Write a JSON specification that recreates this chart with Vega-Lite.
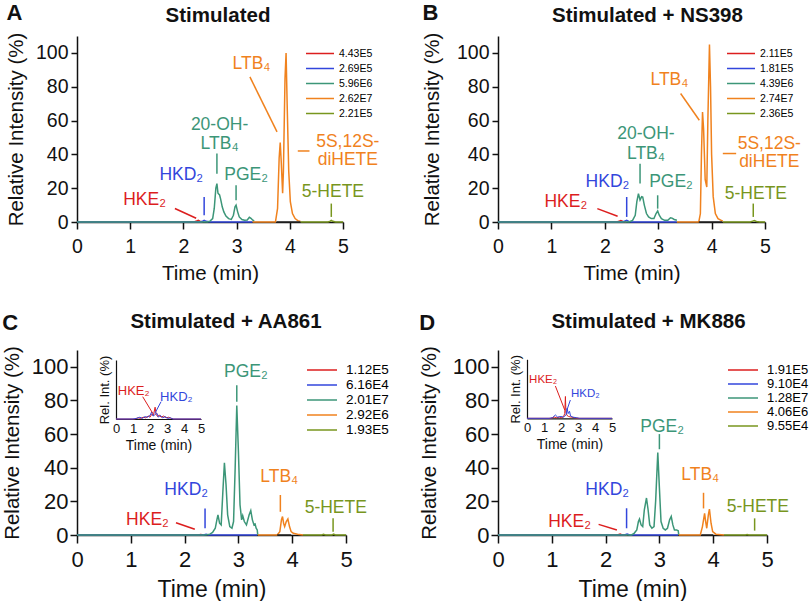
{
  "$schema": "https://vega.github.io/schema/vega-lite/v6.json",
  "padding": {"left": 2, "top": 2, "right": 0, "bottom": 0},
  "columns": 2,
  "spacing": {"row": 28, "column": 30},
  "resolve": {"scale": {"color": "independent"}},
  "config": {
    "font": "Liberation Sans",
    "view": {"stroke": null},
    "axis": {"grid": false, "domainColor": "#111", "tickColor": "#111", "labelColor": "#111", "titleColor": "#111", "titleFontWeight": "normal", "labelFont": "Liberation Sans", "titleFont": "Liberation Sans", "domainWidth": 1.5, "tickWidth": 1.5},
    "title": {"font": "Liberation Sans", "color": "#111"},
    "legend": {"padding": 0, "labelFont": "Liberation Sans"},
    "text": {"font": "Liberation Sans"}
  },
  "datasets": {
    "A": [
      {"time":0,"intensity":0,"trace":"HKE2"},{"time":2.2,"intensity":0,"trace":"HKE2"},{"time":2.25,"intensity":0.6,"trace":"HKE2"},{"time":2.28,"intensity":1,"trace":"HKE2"},{"time":2.31,"intensity":0.5,"trace":"HKE2"},{"time":2.36,"intensity":0,"trace":"HKE2"},
      {"time":0,"intensity":0,"trace":"HKD2"},{"time":2.32,"intensity":0,"trace":"HKD2"},{"time":2.36,"intensity":0.4,"trace":"HKD2"},{"time":2.39,"intensity":1,"trace":"HKD2"},{"time":2.43,"intensity":0.4,"trace":"HKD2"},{"time":2.5,"intensity":0,"trace":"HKD2"},{"time":3.3,"intensity":0,"trace":"HKD2"},
      {"time":0,"intensity":0,"trace":"PGE2"},{"time":2.45,"intensity":0,"trace":"PGE2"},{"time":2.5,"intensity":0.5,"trace":"PGE2"},{"time":2.55,"intensity":2,"trace":"PGE2"},{"time":2.58,"intensity":8,"trace":"PGE2"},{"time":2.61,"intensity":20,"trace":"PGE2"},{"time":2.63,"intensity":22.7,"trace":"PGE2"},{"time":2.65,"intensity":17,"trace":"PGE2"},{"time":2.68,"intensity":16,"trace":"PGE2"},{"time":2.7,"intensity":13.5,"trace":"PGE2"},{"time":2.73,"intensity":9,"trace":"PGE2"},{"time":2.76,"intensity":6,"trace":"PGE2"},{"time":2.8,"intensity":3.5,"trace":"PGE2"},{"time":2.85,"intensity":2,"trace":"PGE2"},{"time":2.9,"intensity":1.5,"trace":"PGE2"},{"time":2.94,"intensity":4,"trace":"PGE2"},{"time":2.97,"intensity":9,"trace":"PGE2"},{"time":2.99,"intensity":10,"trace":"PGE2"},{"time":3.02,"intensity":6,"trace":"PGE2"},{"time":3.05,"intensity":3,"trace":"PGE2"},{"time":3.1,"intensity":1.5,"trace":"PGE2"},{"time":3.15,"intensity":1,"trace":"PGE2"},{"time":3.2,"intensity":1.2,"trace":"PGE2"},{"time":3.24,"intensity":2.8,"trace":"PGE2"},{"time":3.27,"intensity":2.2,"trace":"PGE2"},{"time":3.3,"intensity":1.2,"trace":"PGE2"},{"time":3.33,"intensity":0.5,"trace":"PGE2"},
      {"time":3.3,"intensity":0,"trace":"LTB4"},{"time":3.73,"intensity":0,"trace":"LTB4"},{"time":3.77,"intensity":8,"trace":"LTB4"},{"time":3.8,"intensity":38,"trace":"LTB4"},{"time":3.82,"intensity":47,"trace":"LTB4"},{"time":3.84,"intensity":35,"trace":"LTB4"},{"time":3.865,"intensity":17,"trace":"LTB4"},{"time":3.88,"intensity":30,"trace":"LTB4"},{"time":3.91,"intensity":85,"trace":"LTB4"},{"time":3.93,"intensity":100,"trace":"LTB4"},{"time":3.95,"intensity":70,"trace":"LTB4"},{"time":3.98,"intensity":30,"trace":"LTB4"},{"time":4.01,"intensity":12,"trace":"LTB4"},{"time":4.05,"intensity":5,"trace":"LTB4"},{"time":4.1,"intensity":2,"trace":"LTB4"},{"time":4.15,"intensity":0.8,"trace":"LTB4"},{"time":4.2,"intensity":0.3,"trace":"LTB4"},
      {"time":4.2,"intensity":0,"trace":"5-HETE"},{"time":4.72,"intensity":0,"trace":"5-HETE"},{"time":4.76,"intensity":0.5,"trace":"5-HETE"},{"time":4.78,"intensity":1,"trace":"5-HETE"},{"time":4.81,"intensity":0.4,"trace":"5-HETE"},{"time":4.86,"intensity":0,"trace":"5-HETE"},{"time":5,"intensity":0,"trace":"5-HETE"},
      {"time":3.75,"intensity":0,"trace":"other"},{"time":4.2,"intensity":0,"trace":"other"}
    ],
    "A_lab": [
      {"time":1.27,"intensity":12.8,"label":"HKE₂","trace":"HKE2"},
      {"time":1.96,"intensity":27.6,"label":"HKD₂","trace":"HKD2"},
      {"time":2.68,"intensity":57.5,"label":"20-OH-","trace":"PGE2"},
      {"time":2.68,"intensity":46.2,"label":"LTB₄","trace":"PGE2"},
      {"time":3.18,"intensity":27.6,"label":"PGE₂","trace":"PGE2"},
      {"time":3.28,"intensity":93.7,"label":"LTB₄","trace":"LTB4"},
      {"time":5.09,"intensity":47.3,"label":"5S,12S-","trace":"LTB4"},
      {"time":5.09,"intensity":36.5,"label":"diHETE","trace":"LTB4"},
      {"time":4.81,"intensity":17.8,"label":"5-HETE","trace":"5-HETE"}
    ],
    "A_lead": [
      {"time":1.84,"intensity":8,"time2":2.24,"intensity2":2.2,"trace":"HKE2"},
      {"time":2.39,"intensity":14.8,"time2":2.39,"intensity2":4,"trace":"HKD2"},
      {"time":2.63,"intensity":40.5,"time2":2.63,"intensity2":28.6,"trace":"PGE2"},
      {"time":2.99,"intensity":21.7,"time2":2.99,"intensity2":12.8,"trace":"PGE2"},
      {"time":3.25,"intensity":85.8,"time2":3.76,"intensity2":53.3,"trace":"LTB4"},
      {"time":4.15,"intensity":42,"time2":4.37,"intensity2":42,"trace":"LTB4"},
      {"time":4.78,"intensity":10.9,"time2":4.78,"intensity2":3,"trace":"5-HETE"}
    ],
    "B": [
      {"time":0,"intensity":0,"trace":"HKE2"},{"time":2.22,"intensity":0,"trace":"HKE2"},{"time":2.27,"intensity":0.5,"trace":"HKE2"},{"time":2.3,"intensity":0.8,"trace":"HKE2"},{"time":2.34,"intensity":0.3,"trace":"HKE2"},{"time":2.4,"intensity":0,"trace":"HKE2"},
      {"time":0,"intensity":0,"trace":"HKD2"},{"time":2.33,"intensity":0,"trace":"HKD2"},{"time":2.37,"intensity":0.5,"trace":"HKD2"},{"time":2.41,"intensity":1,"trace":"HKD2"},{"time":2.45,"intensity":0.3,"trace":"HKD2"},{"time":2.5,"intensity":0,"trace":"HKD2"},{"time":3.35,"intensity":0,"trace":"HKD2"},
      {"time":0,"intensity":0,"trace":"PGE2"},{"time":2.45,"intensity":0,"trace":"PGE2"},{"time":2.52,"intensity":1,"trace":"PGE2"},{"time":2.57,"intensity":4,"trace":"PGE2"},{"time":2.6,"intensity":12,"trace":"PGE2"},{"time":2.63,"intensity":16.8,"trace":"PGE2"},{"time":2.66,"intensity":13,"trace":"PGE2"},{"time":2.69,"intensity":15,"trace":"PGE2"},{"time":2.71,"intensity":14.8,"trace":"PGE2"},{"time":2.74,"intensity":10,"trace":"PGE2"},{"time":2.78,"intensity":5,"trace":"PGE2"},{"time":2.82,"intensity":3,"trace":"PGE2"},{"time":2.87,"intensity":2,"trace":"PGE2"},{"time":2.92,"intensity":2,"trace":"PGE2"},{"time":2.96,"intensity":5,"trace":"PGE2"},{"time":2.99,"intensity":6.5,"trace":"PGE2"},{"time":3.02,"intensity":4,"trace":"PGE2"},{"time":3.06,"intensity":2,"trace":"PGE2"},{"time":3.12,"intensity":1,"trace":"PGE2"},{"time":3.18,"intensity":1,"trace":"PGE2"},{"time":3.23,"intensity":2.5,"trace":"PGE2"},{"time":3.26,"intensity":2.3,"trace":"PGE2"},{"time":3.3,"intensity":1.5,"trace":"PGE2"},{"time":3.35,"intensity":1,"trace":"PGE2"},
      {"time":3.35,"intensity":0,"trace":"LTB4"},{"time":3.76,"intensity":0,"trace":"LTB4"},{"time":3.79,"intensity":5,"trace":"LTB4"},{"time":3.81,"intensity":40,"trace":"LTB4"},{"time":3.83,"intensity":65,"trace":"LTB4"},{"time":3.85,"intensity":55,"trace":"LTB4"},{"time":3.88,"intensity":25,"trace":"LTB4"},{"time":3.91,"intensity":20.7,"trace":"LTB4"},{"time":3.93,"intensity":60,"trace":"LTB4"},{"time":3.96,"intensity":105,"trace":"LTB4"},{"time":3.98,"intensity":80,"trace":"LTB4"},{"time":4.0,"intensity":40,"trace":"LTB4"},{"time":4.03,"intensity":15,"trace":"LTB4"},{"time":4.07,"intensity":5,"trace":"LTB4"},{"time":4.12,"intensity":2,"trace":"LTB4"},{"time":4.18,"intensity":1,"trace":"LTB4"},{"time":4.21,"intensity":0.5,"trace":"LTB4"},
      {"time":4.21,"intensity":0,"trace":"5-HETE"},{"time":4.72,"intensity":0,"trace":"5-HETE"},{"time":4.77,"intensity":0.5,"trace":"5-HETE"},{"time":4.8,"intensity":0.8,"trace":"5-HETE"},{"time":4.84,"intensity":0.3,"trace":"5-HETE"},{"time":4.9,"intensity":0,"trace":"5-HETE"},{"time":5,"intensity":0,"trace":"5-HETE"},
      {"time":3.76,"intensity":0,"trace":"other"},{"time":4.2,"intensity":0,"trace":"other"}
    ],
    "B_lab": [
      {"time":1.27,"intensity":11.8,"label":"HKE₂","trace":"HKE2"},
      {"time":2.05,"intensity":23.7,"label":"HKD₂","trace":"HKD2"},
      {"time":2.77,"intensity":52.3,"label":"20-OH-","trace":"PGE2"},
      {"time":2.77,"intensity":40.5,"label":"LTB₄","trace":"PGE2"},
      {"time":3.24,"intensity":23.7,"label":"PGE₂","trace":"PGE2"},
      {"time":3.21,"intensity":83.8,"label":"LTB₄","trace":"LTB4"},
      {"time":5.08,"intensity":46.4,"label":"5S,12S-","trace":"LTB4"},
      {"time":5.08,"intensity":35.5,"label":"diHETE","trace":"LTB4"},
      {"time":4.83,"intensity":16.8,"label":"5-HETE","trace":"5-HETE"}
    ],
    "B_lead": [
      {"time":1.86,"intensity":7.9,"time2":2.24,"intensity2":3.4,"trace":"HKE2"},
      {"time":2.41,"intensity":14.8,"time2":2.41,"intensity2":3,"trace":"HKD2"},
      {"time":2.66,"intensity":34.5,"time2":2.66,"intensity2":22.7,"trace":"PGE2"},
      {"time":2.99,"intensity":15.8,"time2":2.99,"intensity2":7.9,"trace":"PGE2"},
      {"time":3.42,"intensity":76,"time2":3.77,"intensity2":60.2,"trace":"LTB4"},
      {"time":4.21,"intensity":40.5,"time2":4.46,"intensity2":40.5,"trace":"LTB4"},
      {"time":4.78,"intensity":10.9,"time2":4.78,"intensity2":3,"trace":"5-HETE"}
    ],
    "C": [
      {"time":0,"intensity":0,"trace":"HKE2"},{"time":2.25,"intensity":0,"trace":"HKE2"},{"time":2.3,"intensity":0.3,"trace":"HKE2"},{"time":2.35,"intensity":0,"trace":"HKE2"},
      {"time":0,"intensity":0,"trace":"HKD2"},{"time":2.35,"intensity":0,"trace":"HKD2"},{"time":2.4,"intensity":0.4,"trace":"HKD2"},{"time":2.45,"intensity":0,"trace":"HKD2"},{"time":3.35,"intensity":0,"trace":"HKD2"},
      {"time":0,"intensity":0,"trace":"PGE2"},{"time":2.4,"intensity":0,"trace":"PGE2"},{"time":2.47,"intensity":0.5,"trace":"PGE2"},{"time":2.52,"intensity":1.5,"trace":"PGE2"},{"time":2.57,"intensity":4,"trace":"PGE2"},{"time":2.6,"intensity":9,"trace":"PGE2"},{"time":2.62,"intensity":12,"trace":"PGE2"},{"time":2.65,"intensity":7,"trace":"PGE2"},{"time":2.68,"intensity":6,"trace":"PGE2"},{"time":2.71,"intensity":25,"trace":"PGE2"},{"time":2.74,"intensity":43,"trace":"PGE2"},{"time":2.77,"intensity":30,"trace":"PGE2"},{"time":2.8,"intensity":12,"trace":"PGE2"},{"time":2.84,"intensity":5,"trace":"PGE2"},{"time":2.88,"intensity":4,"trace":"PGE2"},{"time":2.91,"intensity":8,"trace":"PGE2"},{"time":2.94,"intensity":40,"trace":"PGE2"},{"time":2.97,"intensity":77,"trace":"PGE2"},{"time":3.0,"intensity":50,"trace":"PGE2"},{"time":3.03,"intensity":18,"trace":"PGE2"},{"time":3.06,"intensity":9,"trace":"PGE2"},{"time":3.08,"intensity":11.5,"trace":"PGE2"},{"time":3.11,"intensity":8,"trace":"PGE2"},{"time":3.15,"intensity":6,"trace":"PGE2"},{"time":3.2,"intensity":12,"trace":"PGE2"},{"time":3.23,"intensity":14.5,"trace":"PGE2"},{"time":3.26,"intensity":9,"trace":"PGE2"},{"time":3.29,"intensity":6,"trace":"PGE2"},{"time":3.31,"intensity":6.5,"trace":"PGE2"},{"time":3.33,"intensity":4,"trace":"PGE2"},{"time":3.35,"intensity":3,"trace":"PGE2"},{"time":3.36,"intensity":0,"trace":"PGE2"},
      {"time":3.36,"intensity":0,"trace":"LTB4"},{"time":3.72,"intensity":0,"trace":"LTB4"},{"time":3.77,"intensity":2,"trace":"LTB4"},{"time":3.8,"intensity":9,"trace":"LTB4"},{"time":3.82,"intensity":11,"trace":"LTB4"},{"time":3.84,"intensity":7,"trace":"LTB4"},{"time":3.86,"intensity":5,"trace":"LTB4"},{"time":3.89,"intensity":8,"trace":"LTB4"},{"time":3.92,"intensity":9.5,"trace":"LTB4"},{"time":3.95,"intensity":5,"trace":"LTB4"},{"time":3.98,"intensity":2,"trace":"LTB4"},{"time":4.02,"intensity":1,"trace":"LTB4"},{"time":4.1,"intensity":0.5,"trace":"LTB4"},{"time":4.2,"intensity":0,"trace":"LTB4"},
      {"time":4.2,"intensity":0,"trace":"5-HETE"},{"time":4.55,"intensity":0,"trace":"5-HETE"},{"time":4.58,"intensity":0.4,"trace":"5-HETE"},{"time":4.62,"intensity":0,"trace":"5-HETE"},{"time":4.74,"intensity":0,"trace":"5-HETE"},{"time":4.77,"intensity":0.5,"trace":"5-HETE"},{"time":4.8,"intensity":0,"trace":"5-HETE"},{"time":5,"intensity":0,"trace":"5-HETE"},
      {"time":3.72,"intensity":0,"trace":"other"},{"time":3.98,"intensity":0,"trace":"other"}
    ],
    "C_lab": [
      {"time":1.31,"intensity":8.9,"label":"HKE₂","trace":"HKE2"},
      {"time":2.03,"intensity":26.7,"label":"HKD₂","trace":"HKD2"},
      {"time":3.14,"intensity":97,"label":"PGE₂","trace":"PGE2"},
      {"time":3.76,"intensity":34.6,"label":"LTB₄","trace":"LTB4"},
      {"time":4.81,"intensity":15.8,"label":"5-HETE","trace":"5-HETE"}
    ],
    "C_lead": [
      {"time":1.84,"intensity":7.3,"time2":2.19,"intensity2":3.4,"trace":"HKE2"},
      {"time":2.38,"intensity":15.8,"time2":2.38,"intensity2":4,"trace":"HKD2"},
      {"time":2.97,"intensity":89.1,"time2":2.97,"intensity2":79.2,"trace":"PGE2"},
      {"time":3.78,"intensity":23.8,"time2":3.78,"intensity2":13.8,"trace":"LTB4"},
      {"time":4.76,"intensity":9.9,"time2":4.76,"intensity2":2,"trace":"5-HETE"}
    ],
    "C_in": [
      {"time":0,"intensity":0,"trace":"HKE2"},{"time":1.1,"intensity":0,"trace":"HKE2"},{"time":1.3,"intensity":2,"trace":"HKE2"},{"time":1.45,"intensity":1,"trace":"HKE2"},{"time":1.6,"intensity":3,"trace":"HKE2"},{"time":1.75,"intensity":2,"trace":"HKE2"},{"time":1.9,"intensity":5,"trace":"HKE2"},{"time":2.0,"intensity":3,"trace":"HKE2"},{"time":2.1,"intensity":8,"trace":"HKE2"},{"time":2.2,"intensity":6,"trace":"HKE2"},{"time":2.3,"intensity":20,"trace":"HKE2"},{"time":2.36,"intensity":8,"trace":"HKE2"},{"time":2.45,"intensity":4,"trace":"HKE2"},{"time":2.55,"intensity":7,"trace":"HKE2"},{"time":2.65,"intensity":3,"trace":"HKE2"},{"time":2.8,"intensity":5,"trace":"HKE2"},{"time":2.95,"intensity":2,"trace":"HKE2"},{"time":3.1,"intensity":3,"trace":"HKE2"},{"time":3.25,"intensity":1,"trace":"HKE2"},{"time":3.4,"intensity":0,"trace":"HKE2"},{"time":5,"intensity":0,"trace":"HKE2"},
      {"time":0,"intensity":0,"trace":"HKD2"},{"time":1.0,"intensity":0,"trace":"HKD2"},{"time":1.2,"intensity":1,"trace":"HKD2"},{"time":1.4,"intensity":3,"trace":"HKD2"},{"time":1.55,"intensity":1,"trace":"HKD2"},{"time":1.7,"intensity":4,"trace":"HKD2"},{"time":1.85,"intensity":3,"trace":"HKD2"},{"time":2.0,"intensity":6,"trace":"HKD2"},{"time":2.1,"intensity":12,"trace":"HKD2"},{"time":2.18,"intensity":5,"trace":"HKD2"},{"time":2.28,"intensity":7,"trace":"HKD2"},{"time":2.4,"intensity":10,"trace":"HKD2"},{"time":2.5,"intensity":3,"trace":"HKD2"},{"time":2.6,"intensity":6,"trace":"HKD2"},{"time":2.75,"intensity":2,"trace":"HKD2"},{"time":2.9,"intensity":4,"trace":"HKD2"},{"time":3.05,"intensity":1,"trace":"HKD2"},{"time":3.2,"intensity":2,"trace":"HKD2"},{"time":3.35,"intensity":0,"trace":"HKD2"},{"time":5,"intensity":0,"trace":"HKD2"}
    ],
    "C_in_lab": [
      {"time":1.04,"intensity":48,"label":"HKE₂","trace":"HKE2"},
      {"time":3.55,"intensity":37.8,"label":"HKD₂","trace":"HKD2"}
    ],
    "C_in_lead": [
      {"time":1.57,"intensity":37.8,"time2":2.16,"intensity2":9.7,"trace":"HKE2"},
      {"time":2.65,"intensity":29.3,"time2":2.29,"intensity2":9.7,"trace":"HKD2"}
    ],
    "D": [
      {"time":0,"intensity":0,"trace":"HKE2"},{"time":2.22,"intensity":0,"trace":"HKE2"},{"time":2.27,"intensity":0.5,"trace":"HKE2"},{"time":2.31,"intensity":0,"trace":"HKE2"},{"time":2.4,"intensity":0,"trace":"HKE2"},
      {"time":0,"intensity":0,"trace":"HKD2"},{"time":2.35,"intensity":0,"trace":"HKD2"},{"time":2.4,"intensity":0.5,"trace":"HKD2"},{"time":2.45,"intensity":0,"trace":"HKD2"},{"time":3.35,"intensity":0,"trace":"HKD2"},
      {"time":0,"intensity":0,"trace":"PGE2"},{"time":2.48,"intensity":0,"trace":"PGE2"},{"time":2.53,"intensity":1,"trace":"PGE2"},{"time":2.58,"intensity":3,"trace":"PGE2"},{"time":2.61,"intensity":8,"trace":"PGE2"},{"time":2.63,"intensity":9.5,"trace":"PGE2"},{"time":2.66,"intensity":6,"trace":"PGE2"},{"time":2.69,"intensity":5,"trace":"PGE2"},{"time":2.72,"intensity":15,"trace":"PGE2"},{"time":2.76,"intensity":22,"trace":"PGE2"},{"time":2.79,"intensity":15,"trace":"PGE2"},{"time":2.82,"intensity":6,"trace":"PGE2"},{"time":2.86,"intensity":4,"trace":"PGE2"},{"time":2.9,"intensity":5,"trace":"PGE2"},{"time":2.93,"intensity":20,"trace":"PGE2"},{"time":2.97,"intensity":49,"trace":"PGE2"},{"time":3.0,"intensity":28,"trace":"PGE2"},{"time":3.03,"intensity":8,"trace":"PGE2"},{"time":3.07,"intensity":4,"trace":"PGE2"},{"time":3.11,"intensity":3,"trace":"PGE2"},{"time":3.15,"intensity":4,"trace":"PGE2"},{"time":3.19,"intensity":9,"trace":"PGE2"},{"time":3.22,"intensity":11,"trace":"PGE2"},{"time":3.25,"intensity":6,"trace":"PGE2"},{"time":3.28,"intensity":3,"trace":"PGE2"},{"time":3.32,"intensity":3,"trace":"PGE2"},{"time":3.35,"intensity":2.5,"trace":"PGE2"},{"time":3.36,"intensity":0,"trace":"PGE2"},
      {"time":3.36,"intensity":0,"trace":"LTB4"},{"time":3.76,"intensity":0,"trace":"LTB4"},{"time":3.8,"intensity":5,"trace":"LTB4"},{"time":3.84,"intensity":12.9,"trace":"LTB4"},{"time":3.86,"intensity":8,"trace":"LTB4"},{"time":3.88,"intensity":4,"trace":"LTB4"},{"time":3.91,"intensity":12,"trace":"LTB4"},{"time":3.93,"intensity":15.4,"trace":"LTB4"},{"time":3.96,"intensity":7,"trace":"LTB4"},{"time":3.99,"intensity":2,"trace":"LTB4"},{"time":4.05,"intensity":0.5,"trace":"LTB4"},{"time":4.2,"intensity":0,"trace":"LTB4"},
      {"time":4.2,"intensity":0,"trace":"5-HETE"},{"time":4.6,"intensity":0,"trace":"5-HETE"},{"time":4.63,"intensity":0.3,"trace":"5-HETE"},{"time":4.66,"intensity":0,"trace":"5-HETE"},{"time":5,"intensity":0,"trace":"5-HETE"},
      {"time":3.78,"intensity":0,"trace":"other"},{"time":4.0,"intensity":0,"trace":"other"}
    ],
    "D_lab": [
      {"time":1.33,"intensity":7.9,"label":"HKE₂","trace":"HKE2"},
      {"time":2.03,"intensity":26.7,"label":"HKD₂","trace":"HKD2"},
      {"time":3.05,"intensity":64.3,"label":"PGE₂","trace":"PGE2"},
      {"time":3.76,"intensity":35.6,"label":"LTB₄","trace":"LTB4"},
      {"time":4.83,"intensity":16.8,"label":"5-HETE","trace":"5-HETE"}
    ],
    "D_lead": [
      {"time":1.87,"intensity":6.3,"time2":2.21,"intensity2":3,"trace":"HKE2"},
      {"time":2.39,"intensity":15.9,"time2":2.39,"intensity2":4,"trace":"HKD2"},
      {"time":3.0,"intensity":60,"time2":3.0,"intensity2":51,"trace":"PGE2"},
      {"time":3.82,"intensity":25.1,"time2":3.82,"intensity2":15.8,"trace":"LTB4"},
      {"time":4.77,"intensity":9.9,"time2":4.77,"intensity2":2.6,"trace":"5-HETE"}
    ],
    "D_in": [
      {"time":0,"intensity":0,"trace":"HKE2"},{"time":1.4,"intensity":0,"trace":"HKE2"},{"time":1.6,"intensity":2,"trace":"HKE2"},{"time":1.75,"intensity":1,"trace":"HKE2"},{"time":1.9,"intensity":2,"trace":"HKE2"},{"time":2.05,"intensity":1,"trace":"HKE2"},{"time":2.15,"intensity":3,"trace":"HKE2"},{"time":2.22,"intensity":8,"trace":"HKE2"},{"time":2.26,"intensity":37,"trace":"HKE2"},{"time":2.29,"intensity":10,"trace":"HKE2"},{"time":2.35,"intensity":5,"trace":"HKE2"},{"time":2.45,"intensity":3,"trace":"HKE2"},{"time":2.6,"intensity":2,"trace":"HKE2"},{"time":2.8,"intensity":1,"trace":"HKE2"},{"time":3.0,"intensity":0,"trace":"HKE2"},{"time":5,"intensity":0,"trace":"HKE2"},
      {"time":0,"intensity":0,"trace":"HKD2"},{"time":1.3,"intensity":0,"trace":"HKD2"},{"time":1.5,"intensity":1,"trace":"HKD2"},{"time":1.67,"intensity":5.6,"trace":"HKD2"},{"time":1.8,"intensity":2,"trace":"HKD2"},{"time":2.0,"intensity":3,"trace":"HKD2"},{"time":2.15,"intensity":2,"trace":"HKD2"},{"time":2.3,"intensity":6,"trace":"HKD2"},{"time":2.36,"intensity":17,"trace":"HKD2"},{"time":2.42,"intensity":8,"trace":"HKD2"},{"time":2.5,"intensity":12,"trace":"HKD2"},{"time":2.56,"intensity":4,"trace":"HKD2"},{"time":2.7,"intensity":2,"trace":"HKD2"},{"time":2.9,"intensity":1,"trace":"HKD2"},{"time":3.1,"intensity":0,"trace":"HKD2"},{"time":5,"intensity":0,"trace":"HKD2"}
    ],
    "D_in_lab": [
      {"time":0.95,"intensity":65,"label":"HKE₂","trace":"HKE2"},
      {"time":3.43,"intensity":40.6,"label":"HKD₂","trace":"HKD2"}
    ],
    "D_in_lead": [
      {"time":1.67,"intensity":54.7,"time2":2.22,"intensity2":14,"trace":"HKE2"},
      {"time":2.55,"intensity":31,"time2":2.35,"intensity2":14,"trace":"HKD2"}
    ]
  },
  "concat": [
    {
      "title": {"text": "A", "anchor": "start", "frame": "bounds", "fontSize": 22, "fontWeight": "bold", "offset": -19},
      "resolve": {"scale": {"color": "independent"}},
      "vconcat": [{
        "width": 266, "height": 186,
        "title": {"text": "Stimulated", "anchor": "middle", "frame": "group", "fontSize": 20.5, "fontWeight": "bold", "offset": 5.5, "dx": 8},
        "layer": [
          {"data": {"name": "A"}, "transform": [{"filter": "datum.trace !== 'other'"}], "mark": {"type": "line", "strokeWidth": 1.5},
           "encoding": {
             "x": {"field": "time", "type": "quantitative", "scale": {"domain": [0, 5], "nice": false}, "axis": {"values": [0,1,2,3,4,5], "tickCount": 6, "format": "d", "title": "Time (min)", "labelFontSize": 19.5, "titleFontSize": 20.5, "tickSize": 7, "labelPadding": 8, "titlePadding": 8, "labelFlush": false, "labelOverlap": false}},
             "y": {"field": "intensity", "type": "quantitative", "scale": {"domain": [0, 110], "nice": false}, "axis": {"values": [0,20,40,60,80,100], "tickCount": 6, "title": "Relative Intensity (%)", "labelFontSize": 19.5, "titleFontSize": 20.5, "tickSize": 6, "labelPadding": 3, "titlePadding": 9, "labelFlush": false, "labelOverlap": false}},
             "color": {"field": "trace", "type": "nominal", "scale": {"domain": ["HKE2","HKD2","PGE2","LTB4","5-HETE"], "range": ["#dc1e1e","#3246dc","#3c9678","#f0821e","#78961e"]},
               "legend": {"orient": "none", "legendX": 228, "legendY": 10, "title": null, "symbolType": "stroke", "symbolSize": 784, "symbolStrokeWidth": 1.5, "clipHeight": 15, "rowPadding": 0, "labelFontSize": 10.5, "labelOffset": 4,
                 "labelExpr": "datum.label === 'HKE2' ? '4.43E5' : datum.label === 'HKD2' ? '2.69E5' : datum.label === 'PGE2' ? '5.96E6' : datum.label === 'LTB4' ? '2.62E7' : '2.21E5'",
                 "encode": {"labels": {"fill": {"value": {"expr": "datum.value === 'HKE2' ? '#d42020' : datum.value === 'HKD2' ? '#3348d8' : datum.value === 'PGE2' ? '#2f7f68' : datum.value === 'LTB4' ? '#ec7f25' : '#5f7f1c'"}}}}}}
           }},
          {"data": {"name": "A"}, "transform": [{"filter": "datum.trace === 'other'"}], "mark": {"type": "line", "strokeWidth": 1.5, "color": "#222"},
           "encoding": {"x": {"field": "time", "type": "quantitative"}, "y": {"field": "intensity", "type": "quantitative"}}},
          {"data": {"name": "A_lead"}, "mark": {"type": "rule", "strokeWidth": 1.5},
           "encoding": {"x": {"field": "time", "type": "quantitative"}, "y": {"field": "intensity", "type": "quantitative"}, "x2": {"field": "time2"}, "y2": {"field": "intensity2"}, "color": {"field": "trace", "type": "nominal"}}},
          {"data": {"name": "A_lab"}, "mark": {"type": "text", "fontSize": 17.5, "align": "center", "baseline": "middle"},
           "encoding": {"x": {"field": "time", "type": "quantitative"}, "y": {"field": "intensity", "type": "quantitative"}, "text": {"field": "label"}, "color": {"field": "trace", "type": "nominal"}}}
        ]
      }]
    },
    {
      "title": {"text": "B", "anchor": "start", "frame": "bounds", "fontSize": 22, "fontWeight": "bold", "offset": -19},
      "resolve": {"scale": {"color": "independent"}},
      "vconcat": [{
        "width": 267, "height": 186,
        "title": {"text": "Stimulated + NS398", "anchor": "middle", "frame": "group", "fontSize": 20.5, "fontWeight": "bold", "offset": 5.5, "dx": 16},
        "layer": [
          {"data": {"name": "B"}, "transform": [{"filter": "datum.trace !== 'other'"}], "mark": {"type": "line", "strokeWidth": 1.5},
           "encoding": {
             "x": {"field": "time", "type": "quantitative", "scale": {"domain": [0, 5], "nice": false}, "axis": {"values": [0,1,2,3,4,5], "tickCount": 6, "format": "d", "title": "Time (min)", "labelFontSize": 19.5, "titleFontSize": 20.5, "tickSize": 7, "labelPadding": 8, "titlePadding": 8, "labelFlush": false, "labelOverlap": false}},
             "y": {"field": "intensity", "type": "quantitative", "scale": {"domain": [0, 110], "nice": false}, "axis": {"values": [0,20,40,60,80,100], "tickCount": 6, "title": "Relative Intensity (%)", "labelFontSize": 19.5, "titleFontSize": 20.5, "tickSize": 6, "labelPadding": 3, "titlePadding": 14, "labelFlush": false, "labelOverlap": false}},
             "color": {"field": "trace", "type": "nominal", "scale": {"domain": ["HKE2","HKD2","PGE2","LTB4","5-HETE"], "range": ["#dc1e1e","#3246dc","#3c9678","#f0821e","#78961e"]},
               "legend": {"orient": "none", "legendX": 228, "legendY": 10, "title": null, "symbolType": "stroke", "symbolSize": 784, "symbolStrokeWidth": 1.5, "clipHeight": 15, "rowPadding": 0, "labelFontSize": 10.5, "labelOffset": 4,
                 "labelExpr": "datum.label === 'HKE2' ? '2.11E5' : datum.label === 'HKD2' ? '1.81E5' : datum.label === 'PGE2' ? '4.39E6' : datum.label === 'LTB4' ? '2.74E7' : '2.36E5'",
                 "encode": {"labels": {"fill": {"value": {"expr": "datum.value === 'HKE2' ? '#d42020' : datum.value === 'HKD2' ? '#3348d8' : datum.value === 'PGE2' ? '#2f7f68' : datum.value === 'LTB4' ? '#ec7f25' : '#5f7f1c'"}}}}}}
           }},
          {"data": {"name": "B"}, "transform": [{"filter": "datum.trace === 'other'"}], "mark": {"type": "line", "strokeWidth": 1.5, "color": "#222"},
           "encoding": {"x": {"field": "time", "type": "quantitative"}, "y": {"field": "intensity", "type": "quantitative"}}},
          {"data": {"name": "B_lead"}, "mark": {"type": "rule", "strokeWidth": 1.5},
           "encoding": {"x": {"field": "time", "type": "quantitative"}, "y": {"field": "intensity", "type": "quantitative"}, "x2": {"field": "time2"}, "y2": {"field": "intensity2"}, "color": {"field": "trace", "type": "nominal"}}},
          {"data": {"name": "B_lab"}, "mark": {"type": "text", "fontSize": 17.5, "align": "center", "baseline": "middle"},
           "encoding": {"x": {"field": "time", "type": "quantitative"}, "y": {"field": "intensity", "type": "quantitative"}, "text": {"field": "label"}, "color": {"field": "trace", "type": "nominal"}}}
        ]
      }]
    },
    {
      "title": {"text": "C", "anchor": "start", "frame": "bounds", "fontSize": 22, "fontWeight": "bold", "offset": -23},
      "resolve": {"scale": {"color": "independent"}},
      "vconcat": [{
        "width": 269, "height": 185,
        "title": {"text": "Stimulated + AA861", "anchor": "middle", "frame": "group", "fontSize": 20.5, "fontWeight": "bold", "offset": 12.7, "dx": 14.5},
        "resolve": {"scale": {"x": "independent", "y": "independent"}},
        "layer": [
          {"layer": [
            {"data": {"name": "C"}, "transform": [{"filter": "datum.trace !== 'other'"}], "mark": {"type": "line", "strokeWidth": 1.5},
             "encoding": {
               "x": {"field": "time", "type": "quantitative", "scale": {"domain": [0, 5], "nice": false}, "axis": {"values": [0,1,2,3,4,5], "tickCount": 6, "format": "d", "title": "Time (min)", "labelFontSize": 22, "titleFontSize": 23, "tickSize": 8, "labelPadding": 6, "titlePadding": 8, "labelFlush": false, "labelOverlap": false}},
               "y": {"field": "intensity", "type": "quantitative", "scale": {"domain": [0, 110], "nice": false}, "axis": {"values": [0,20,40,60,80,100], "tickCount": 6, "title": "Relative Intensity (%)", "labelFontSize": 22, "titleFontSize": 20.5, "tickSize": 7, "labelPadding": 2, "titlePadding": 9, "labelFlush": false, "labelOverlap": false}},
               "color": {"field": "trace", "type": "nominal", "scale": {"domain": ["HKE2","HKD2","PGE2","LTB4","5-HETE"], "range": ["#dc1e1e","#3246dc","#3c9678","#f0821e","#78961e"]},
                 "legend": {"orient": "none", "legendX": 229, "legendY": 13, "title": null, "symbolType": "stroke", "symbolSize": 900, "symbolStrokeWidth": 1.5, "clipHeight": 13.8, "rowPadding": 0, "labelFontSize": 13.5, "labelOffset": 8,
                   "labelExpr": "datum.label === 'HKE2' ? '1.12E5' : datum.label === 'HKD2' ? '6.16E4' : datum.label === 'PGE2' ? '2.01E7' : datum.label === 'LTB4' ? '2.92E6' : '1.93E5'",
                   "encode": {"labels": {"fill": {"value": {"expr": "datum.value === 'HKE2' ? '#d42020' : datum.value === 'HKD2' ? '#3348d8' : datum.value === 'PGE2' ? '#2f7f68' : datum.value === 'LTB4' ? '#ec7f25' : '#5f7f1c'"}}}}}}
             }},
            {"data": {"name": "C"}, "transform": [{"filter": "datum.trace === 'other'"}], "mark": {"type": "line", "strokeWidth": 1.5, "color": "#222"},
             "encoding": {"x": {"field": "time", "type": "quantitative"}, "y": {"field": "intensity", "type": "quantitative"}}},
            {"data": {"name": "C_lead"}, "mark": {"type": "rule", "strokeWidth": 1.5},
             "encoding": {"x": {"field": "time", "type": "quantitative"}, "y": {"field": "intensity", "type": "quantitative"}, "x2": {"field": "time2"}, "y2": {"field": "intensity2"}, "color": {"field": "trace", "type": "nominal"}}},
            {"data": {"name": "C_lab"}, "mark": {"type": "text", "fontSize": 17.5, "align": "center", "baseline": "middle"},
             "encoding": {"x": {"field": "time", "type": "quantitative"}, "y": {"field": "intensity", "type": "quantitative"}, "text": {"field": "label"}, "color": {"field": "trace", "type": "nominal"}}}
          ]},
          {"layer": [
            {"data": {"name": "C_in"}, "mark": {"type": "line", "strokeWidth": 1},
             "encoding": {
               "x": {"field": "time", "type": "quantitative", "scale": {"domain": [0, 5], "range": [39, 124], "nice": false}, "axis": {"orient": "bottom", "offset": -116, "values": [0,1,2,3,4,5], "tickCount": 6, "format": "d", "ticks": false, "labelFontSize": 13, "labelPadding": 3, "labelFlush": false, "labelOverlap": false, "title": "Time (min)", "titleFontSize": 14, "titlePadding": 3, "domainWidth": 1.2}},
               "y": {"field": "intensity", "type": "quantitative", "scale": {"domain": [0, 100], "range": [69, 10], "nice": false}, "axis": {"orient": "left", "offset": -39, "ticks": false, "labels": false, "title": "Rel. Int. (%)", "titleFontSize": 13, "titlePadding": 5, "domainWidth": 1.2}},
               "color": {"field": "trace", "type": "nominal"}
             }},
            {"data": {"name": "C_in_lead"}, "mark": {"type": "rule", "strokeWidth": 1},
             "encoding": {"x": {"field": "time", "type": "quantitative"}, "y": {"field": "intensity", "type": "quantitative"}, "x2": {"field": "time2"}, "y2": {"field": "intensity2"}, "color": {"field": "trace", "type": "nominal"}}},
            {"data": {"name": "C_in_lab"}, "mark": {"type": "text", "fontSize": 13, "align": "center", "baseline": "middle"},
             "encoding": {"x": {"field": "time", "type": "quantitative"}, "y": {"field": "intensity", "type": "quantitative"}, "text": {"field": "label"}, "color": {"field": "trace", "type": "nominal"}}}
          ]}
        ]
      }]
    },
    {
      "title": {"text": "D", "anchor": "start", "frame": "bounds", "fontSize": 22, "fontWeight": "bold", "offset": -23},
      "resolve": {"scale": {"color": "independent"}},
      "vconcat": [{
        "width": 269, "height": 185,
        "title": {"text": "Stimulated + MK886", "anchor": "middle", "frame": "group", "fontSize": 20.5, "fontWeight": "bold", "offset": 12.7, "dx": 16},
        "resolve": {"scale": {"x": "independent", "y": "independent"}},
        "layer": [
          {"layer": [
            {"data": {"name": "D"}, "transform": [{"filter": "datum.trace !== 'other'"}], "mark": {"type": "line", "strokeWidth": 1.5},
             "encoding": {
               "x": {"field": "time", "type": "quantitative", "scale": {"domain": [0, 5], "nice": false}, "axis": {"values": [0,1,2,3,4,5], "tickCount": 6, "format": "d", "title": "Time (min)", "labelFontSize": 22, "titleFontSize": 23, "tickSize": 8, "labelPadding": 6, "titlePadding": 8, "labelFlush": false, "labelOverlap": false}},
               "y": {"field": "intensity", "type": "quantitative", "scale": {"domain": [0, 110], "nice": false}, "axis": {"values": [0,20,40,60,80,100], "tickCount": 6, "title": "Relative Intensity (%)", "labelFontSize": 22, "titleFontSize": 20.5, "tickSize": 7, "labelPadding": 2, "titlePadding": 13, "labelFlush": false, "labelOverlap": false}},
               "color": {"field": "trace", "type": "nominal", "scale": {"domain": ["HKE2","HKD2","PGE2","LTB4","5-HETE"], "range": ["#dc1e1e","#3246dc","#3c9678","#f0821e","#78961e"]},
                 "legend": {"orient": "none", "legendX": 229, "legendY": 13, "title": null, "symbolType": "stroke", "symbolSize": 900, "symbolStrokeWidth": 1.5, "clipHeight": 13.8, "rowPadding": 0, "labelFontSize": 13, "labelOffset": 8,
                   "labelExpr": "datum.label === 'HKE2' ? '1.91E5' : datum.label === 'HKD2' ? '9.10E4' : datum.label === 'PGE2' ? '1.28E7' : datum.label === 'LTB4' ? '4.06E6' : '9.55E4'",
                   "encode": {"labels": {"fill": {"value": {"expr": "datum.value === 'HKE2' ? '#d42020' : datum.value === 'HKD2' ? '#3348d8' : datum.value === 'PGE2' ? '#2f7f68' : datum.value === 'LTB4' ? '#ec7f25' : '#5f7f1c'"}}}}}}
             }},
            {"data": {"name": "D"}, "transform": [{"filter": "datum.trace === 'other'"}], "mark": {"type": "line", "strokeWidth": 1.5, "color": "#222"},
             "encoding": {"x": {"field": "time", "type": "quantitative"}, "y": {"field": "intensity", "type": "quantitative"}}},
            {"data": {"name": "D_lead"}, "mark": {"type": "rule", "strokeWidth": 1.5},
             "encoding": {"x": {"field": "time", "type": "quantitative"}, "y": {"field": "intensity", "type": "quantitative"}, "x2": {"field": "time2"}, "y2": {"field": "intensity2"}, "color": {"field": "trace", "type": "nominal"}}},
            {"data": {"name": "D_lab"}, "mark": {"type": "text", "fontSize": 17.5, "align": "center", "baseline": "middle"},
             "encoding": {"x": {"field": "time", "type": "quantitative"}, "y": {"field": "intensity", "type": "quantitative"}, "text": {"field": "label"}, "color": {"field": "trace", "type": "nominal"}}}
          ]},
          {"layer": [
            {"data": {"name": "D_in"}, "mark": {"type": "line", "strokeWidth": 1},
             "encoding": {
               "x": {"field": "time", "type": "quantitative", "scale": {"domain": [0, 5], "range": [29, 114], "nice": false}, "axis": {"orient": "bottom", "offset": -116.7, "values": [0,1,2,3,4,5], "tickCount": 6, "format": "d", "ticks": false, "labelFontSize": 13, "labelPadding": 3, "labelFlush": false, "labelOverlap": false, "title": "Time (min)", "titleFontSize": 14, "titlePadding": 3, "domainWidth": 1.2}},
               "y": {"field": "intensity", "type": "quantitative", "scale": {"domain": [0, 100], "range": [68.3, 9.3], "nice": false}, "axis": {"orient": "left", "offset": -29, "ticks": false, "labels": false, "title": "Rel. Int. (%)", "titleFontSize": 13, "titlePadding": 5, "domainWidth": 1.2}},
               "color": {"field": "trace", "type": "nominal"}
             }},
            {"data": {"name": "D_in_lead"}, "mark": {"type": "rule", "strokeWidth": 1},
             "encoding": {"x": {"field": "time", "type": "quantitative"}, "y": {"field": "intensity", "type": "quantitative"}, "x2": {"field": "time2"}, "y2": {"field": "intensity2"}, "color": {"field": "trace", "type": "nominal"}}},
            {"data": {"name": "D_in_lab"}, "mark": {"type": "text", "fontSize": 11.5, "align": "center", "baseline": "middle"},
             "encoding": {"x": {"field": "time", "type": "quantitative"}, "y": {"field": "intensity", "type": "quantitative"}, "text": {"field": "label"}, "color": {"field": "trace", "type": "nominal"}}}
          ]}
        ]
      }]
    }
  ]
}
